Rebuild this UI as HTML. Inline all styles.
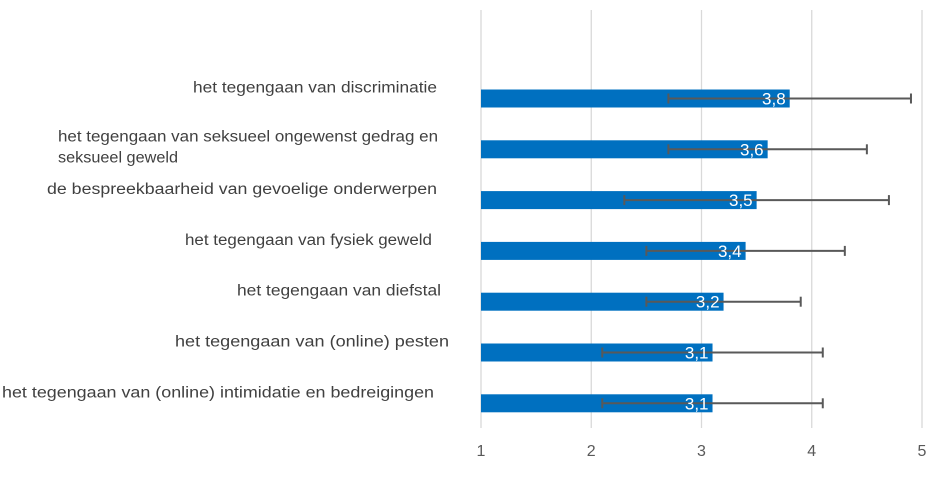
<!DOCTYPE html>
<html><head><meta charset="utf-8"><style>
body{margin:0;background:#fff;}
svg text{font-family:"Liberation Sans",sans-serif;}
</style></head><body>
<svg id="chart" width="951" height="476" xmlns="http://www.w3.org/2000/svg"></svg>
<script>
const categories=["het tegengaan van discriminatie","het tegengaan van seksueel ongewenst gedrag en|seksueel geweld","de bespreekbaarheid van gevoelige onderwerpen","het tegengaan van fysiek geweld","het tegengaan van diefstal","het tegengaan van (online) pesten","het tegengaan van (online) intimidatie en bedreigingen"];
const values=[3.8,3.6,3.5,3.4,3.2,3.1,3.1];
const valueLabels=["3,8","3,6","3,5","3,4","3,2","3,1","3,1"];
const errLow=[2.7,2.7,2.3,2.5,2.5,2.1,2.1];
const errHigh=[4.9,4.5,4.7,4.3,3.9,4.1,4.1];
const ticks=[1,2,3,4,5];
const labelLeft=[193,58,47,185,237,175,2];
const labelWidth=[244,380,390,247,204,274,432];

const svg=document.getElementById('chart');
const NS="http://www.w3.org/2000/svg";
const x=v=>481+(v-1)*110.25;
const yc=i=>98.5+i*50.8;
function mk(tag,attrs,parent){const e=document.createElementNS(NS,tag);for(const k in attrs)e.setAttribute(k,attrs[k]);(parent||svg).appendChild(e);return e;}
ticks.forEach(t=>{
  const g=mk('line',{x1:x(t),x2:x(t),y1:10,y2:428,stroke:'#d9d9d9','stroke-width':1.3});
  
  
  const tl=mk('text',{x:x(t),y:456,'text-anchor':'middle','font-size':16,fill:'#595959'});
  tl.textContent=t;
  
  
});
values.forEach((v,i)=>{
  const c=yc(i);
  const b=mk('rect',{x:x(1),y:c-9,width:x(v)-x(1),height:18,fill:'#0070c0'});
  
  
  const e=mk('g',{stroke:'#595959','stroke-width':2});
  
  
  mk('line',{x1:x(errLow[i]),x2:x(errHigh[i]),y1:c,y2:c},e);
  mk('line',{x1:x(errLow[i]),x2:x(errLow[i]),y1:c-5,y2:c+5},e);
  mk('line',{x1:x(errHigh[i]),x2:x(errHigh[i]),y1:c-5,y2:c+5},e);
  const vl=mk('text',{x:x(v)-4,y:c+6,'text-anchor':'end','font-size':17,fill:'#fff'});
  vl.textContent=valueLabels[i];
  
  
  const lines=categories[i].split('|');
  lines.forEach((ln,j)=>{
    const ty=lines.length>1?c-13+j*21+5:c-11+5;
    const w=j===0?labelWidth[i]:120;
    const cl=mk('text',{x:labelLeft[i],y:ty,'font-size':15.5,fill:'#404040',textLength:w,lengthAdjust:'spacingAndGlyphs'});
    cl.textContent=ln;
    
    
  });
});
</script>
</body></html>
